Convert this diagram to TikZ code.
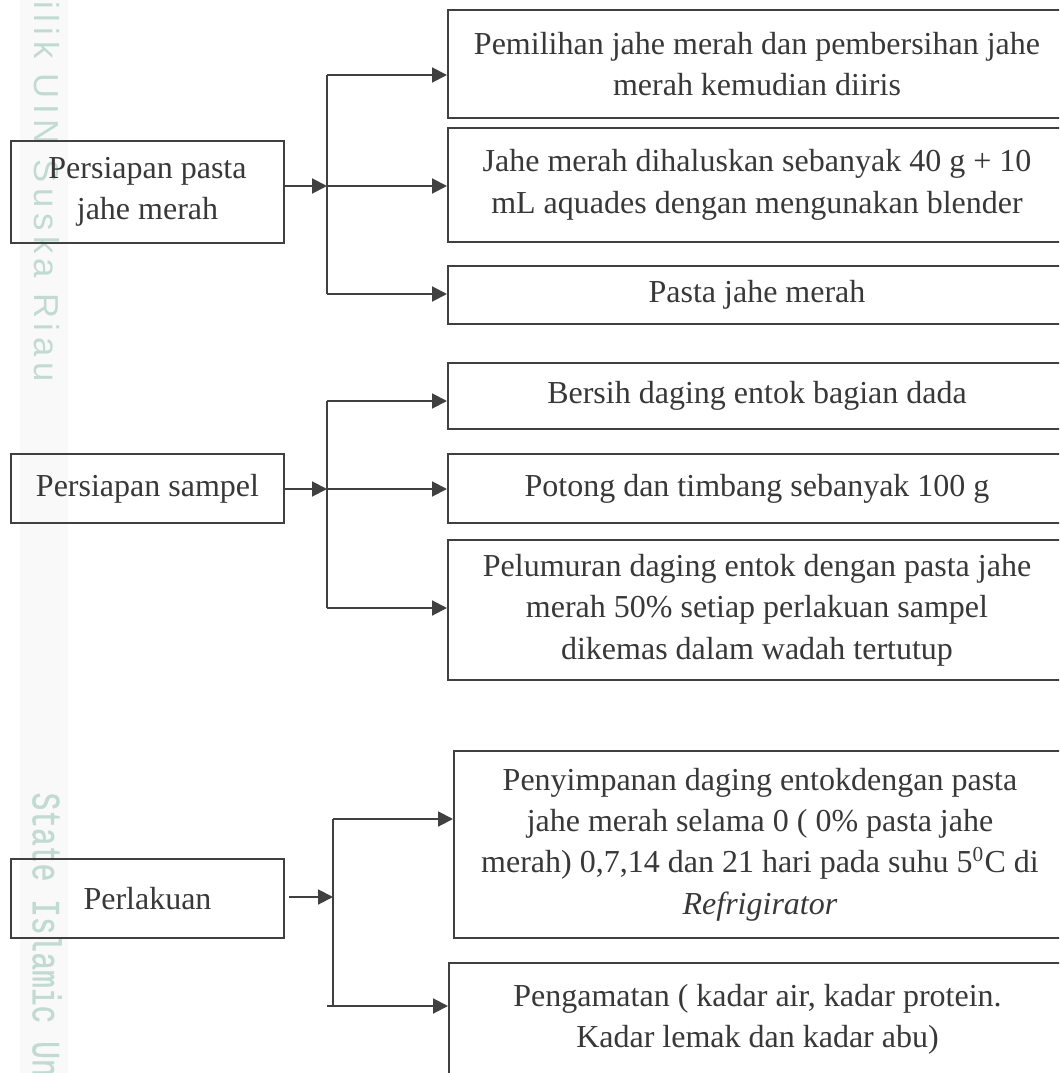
\documentclass[tikz,border=0pt]{standalone}
\usepackage{fontspec}
\setmainfont{Liberation Serif}
\newfontfamily\wmsans{Liberation Sans}
\newfontfamily\wmmono{Liberation Mono}
\usepackage{tikz}
\usetikzlibrary{arrows.meta}
\definecolor{linegray}{HTML}{404040}
\definecolor{textgray}{HTML}{383838}
\definecolor{wmgreen}{HTML}{C2DBD2}
\def\pxu{0.375pt}
\tikzstyle{leftbox}=[rectangle,draw=linegray,line width=0.75pt,text=textgray,align=center,minimum width=273*\pxu,inner sep=0pt]
\tikzstyle{stepbox}=[rectangle,draw=linegray,line width=0.75pt,text=textgray,align=center,inner sep=0pt]
\tikzstyle{edge} = [draw,line width=0.75pt,linegray,-{Triangle[length=5.6pt,width=5.6pt]}]
\tikzstyle{undirectededge} = [draw,line width=0.75pt,linegray]
\tikzstyle{watermark} = [rotate=-90,anchor=west,inner sep=0pt,text=wmgreen]

\begin{document}
\begin{tikzpicture}[x=\pxu,y=-\pxu,every node/.style={font=\fontsize{12}{15.5}\selectfont}]
    \useasboundingbox (0,0) rectangle (1059,1073);
    \clip (0,0) rectangle (1059,1073);

    % Watermark strip on the left
    \fill[gray!5] (20,0) rectangle (68,1073);
    \node[watermark,font=\wmsans\addfontfeature{LetterSpace=16}\fontsize{13}{14}\selectfont] (wmtop) at (47,1) {ilik UIN Suska Riau};
    \node[watermark,font=\wmmono\addfontfeature{FakeStretch=0.74,FakeBold=1}\fontsize{15}{16}\selectfont] (wmbot) at (47,792) {State Islamic Un};

    % First we draw the boxes on the left
    \foreach \pos/\name/\h/\label in {{(147.5,192)/L1/102/{Persiapan pasta\\jahe merah}},
        {(147.5,488.5)/L2/69/{Persiapan sampel}}, {(147.5,898.5)/L3/79/{Perlakuan}}}
        \node[leftbox,minimum height=\h*\pxu] (\name) at \pos {\label};

    % Then the steps on the right
    \foreach \pos/\name/\w/\h/\label in {
        {(757,64)/B1/618/108/{Pemilihan jahe merah dan pembersihan jahe\\merah kemudian diiris}},
        {(757,185)/B2/618/114/{Jahe merah dihaluskan sebanyak 40 g + 10\\mL aquades dengan mengunakan blender}},
        {(757,295)/B3/618/58/{Pasta jahe merah}},
        {(757,396)/B4/618/66/{Bersih daging entok bagian dada}},
        {(757,488.5)/B5/618/69/{Potong dan timbang sebanyak 100 g}},
        {(757,610)/B6/618/140/{Pelumuran daging entok dengan pasta jahe\\merah 50\% setiap perlakuan sampel\\dikemas dalam wadah tertutup}},
        {(760,844.5)/B7/612/187/{Penyimpanan daging entokdengan pasta\\jahe merah selama 0 ( 0\% pasta jahe\\merah) 0,7,14 dan 21 hari pada suhu 5\textsuperscript{0}C di\\\textit{Refrigirator}}},
        {(757.5,1019.5)/B8/617/113/{Pengamatan ( kadar air, kadar protein.\\Kadar lemak dan kadar abu)}}}
        \node[stepbox,minimum width=\w*\pxu,minimum height=\h*\pxu] (\name) at \pos {\label};

    % Connect boxes: persiapan pasta jahe merah
    \coordinate (j1) at (327,186);
    \coordinate (t1) at (327,75);
    \coordinate (d1) at (327,294);
    \draw[edge] (L1.east |- j1) -- (j1);
    \draw[undirectededge] (t1) -- (d1);
    \foreach \c/\dest in {t1/B1, j1/B2, d1/B3}
        \draw[edge] (\c) -- (\c -| \dest.west);

    % persiapan sampel
    \coordinate (j2) at (327,489);
    \coordinate (t2) at (327,401);
    \coordinate (d2) at (327,608);
    \draw[edge] (L2.east |- j2) -- (j2);
    \draw[undirectededge] (t2) -- (d2);
    \foreach \c/\dest in {t2/B4, j2/B5, d2/B6}
        \draw[edge] (\c) -- (\c -| \dest.west);

    % perlakuan
    \coordinate (j3) at (333,897);
    \coordinate (t3) at (333,819);
    \coordinate (d3) at (333,1006);
    \draw[edge,shorten <=1.5pt] (L3.east |- j3) -- (j3);
    \draw[undirectededge] (t3) -- (d3);
    \draw[edge] (t3) -- (t3 -| B7.west);
    \draw[edge] ([xshift=-6*\pxu]d3) -- (d3 -| B8.west);
\end{tikzpicture}
\end{document}
